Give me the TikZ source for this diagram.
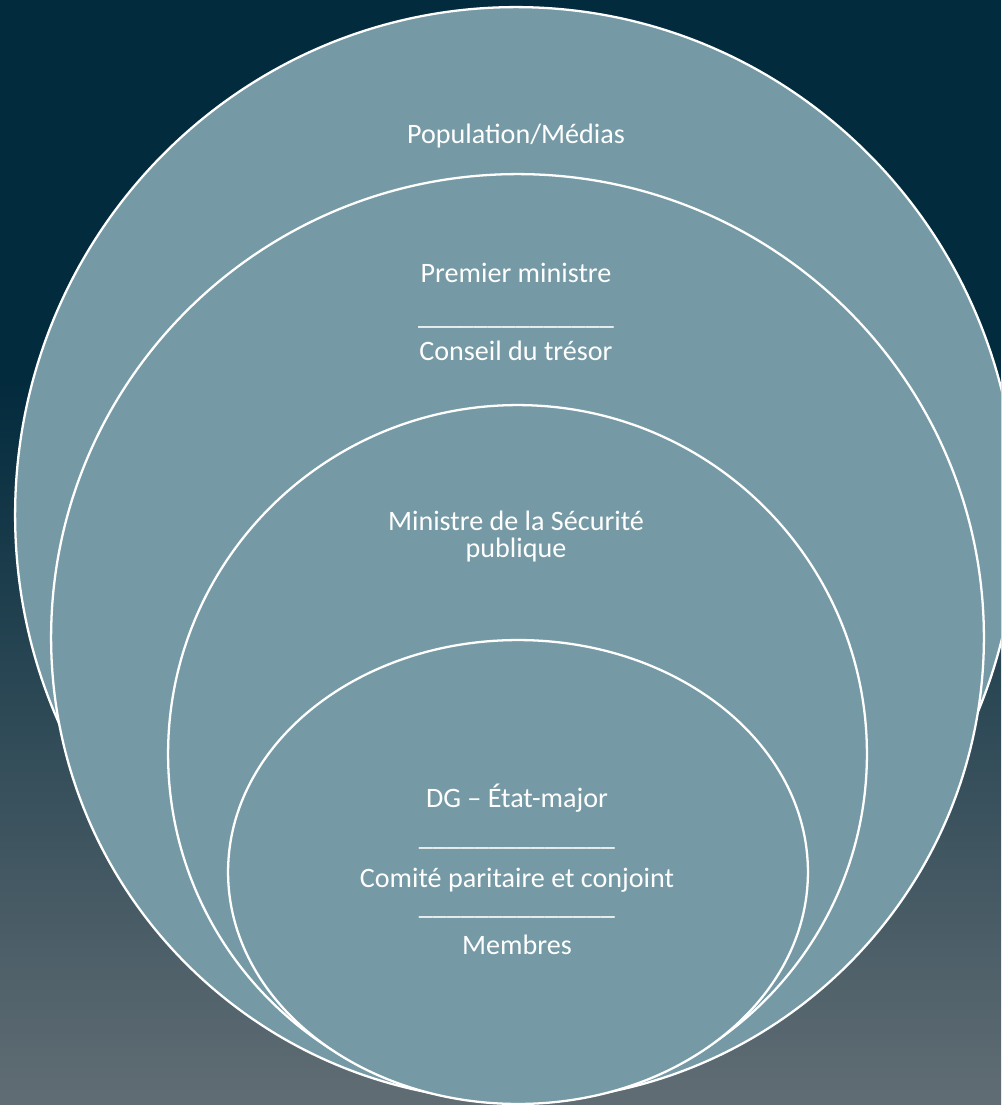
\documentclass[tikz,border=0pt]{standalone}
\usepackage{fontspec}
\setmainfont{Carlito}
\usepackage{xcolor}
\usepackage{tikz}
\usetikzlibrary{positioning,shapes.geometric}
\definecolor{night}{HTML}{022B3D}
\definecolor{slate}{HTML}{616D74}
\definecolor{ringfill}{HTML}{759AA5}
\newcommand{\sepline}{\_\_\_\_\_\_\_\_\_\_\_\_\_\_}
\tikzset{
    ring/.style={ellipse, draw=white, line width=1.3pt, fill=ringfill, inner sep=0pt, outer sep=0pt},
    lbl/.style={text=white, align=center, anchor=base, inner sep=0pt, font=\fontsize{16}{15.36}\selectfont}
}

\begin{document}
\begin{tikzpicture}[x=0.02cm, y=-0.02cm]

\useasboundingbox (0,0) rectangle (1001,1105);
\clip (0,0) rectangle (1001,1105);

% Background
\fill[night] (0,0) rectangle (1001,381);
\shade[top color=night, bottom color=slate] (0,380) rectangle (1001,1105);

% Rings
\node[ring, minimum width=20.04cm, minimum height=20.32cm] (pop) at (516,515) {};
\node[ring, minimum width=18.66cm, minimum height=18.54cm] (pm) at (517.5,637.5) {};
\node[ring, minimum width=13.98cm, minimum height=13.96cm] (msp) at (517.5,754) {};
\node[ring, minimum width=11.6cm, minimum height=9.28cm] (dg) at (518,872) {};

% Labels (base = last line)
\node[lbl] (popText) at (516,143) {Population/Médias};
\node[lbl] (pmText) at (516,360) {Premier ministre\\[8.8pt]\sepline\\[4.8pt]Conseil du trésor};
\node[lbl] (mspText) at (516,557) {Ministre de la Sécurité\\publique};
\node[lbl] (dgText) at (517,954) {DG – État-major\\[6.8pt]\sepline\\[8pt]Comité paritaire et conjoint\\\sepline\\[7.4pt]Membres};

\end{tikzpicture}
\end{document}
